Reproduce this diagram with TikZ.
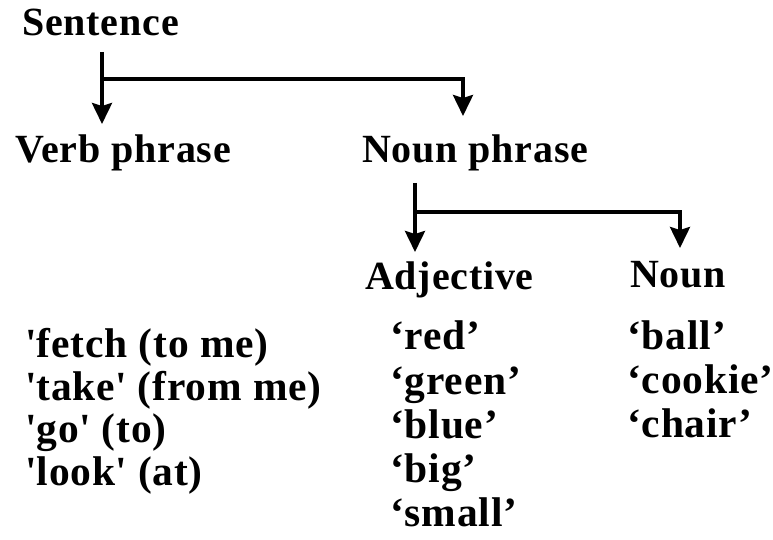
\documentclass[tikz,border=0pt]{standalone}
\usepackage{fontspec}
\setmainfont{Liberation Serif}[LetterSpace=2]
\usetikzlibrary{arrows.meta}
\newcommand{\sq}{\textquotesingle}
\begin{document}
\begin{tikzpicture}[x=1pt,y=1pt,
  lbl/.style={anchor=base west,inner sep=0pt,font=\fontsize{40}{40}\selectfont\bfseries},
  item/.style={lbl,font=\fontsize{41.5}{41.5}\selectfont\bfseries},
  conn/.style={line width=3.5pt,-{Stealth[length=21pt,width=20pt,inset=3pt]}}]
\useasboundingbox (0,0) rectangle (773,540);
% headings
\node[lbl] (sent) at (22,540-36) {Sentence};
\node[lbl] (vp) at (15,540-163) {Verb phrase};
\node[lbl] (np) at (362,540-163) {Noun phrase};
\node[lbl] (adj) at (365,540-290) {Adjective};
\node[lbl] (noun) at (630,540-288) {Noun};
% verb list
\node[item] (v1) at (25,540-358) {\sq fetch (to me)};
\node[item] (v2) at (25,540-401) {\sq take\sq{} (from me)};
\node[item] (v3) at (25,540-443) {\sq go\sq{} (to)};
\node[item] (v4) at (25,540-486) {\sq look\sq{} (at)};
% adjective list
\node[item] (a1) at (390,540-350) {‘red’};
\node[item] (a2) at (390,540-395) {‘green’};
\node[item] (a3) at (390,540-439) {‘blue’};
\node[item] (a4) at (390,540-483) {‘big’};
\node[item] (a5) at (390,540-527) {‘small’};
% noun list
\node[item] (n1) at (627,540-350) {‘ball’};
\node[item] (n2) at (627,540-394) {‘cookie’};
\node[item] (n3) at (627,540-438) {‘chair’};
% connectors
\coordinate (s0) at (102,540-52);
\coordinate (s1) at (102,540-79);
\coordinate (s2) at (463,540-79);
\coordinate (vpt) at (102,540-124);
\coordinate (npt) at (463,540-116);
\draw[conn] (s0) -- (vpt);
\draw[conn] (s1) -- (s2) -- (npt);
\coordinate (t0) at (415,540-183);
\coordinate (t1) at (415,540-212);
\coordinate (t2) at (680,540-212);
\coordinate (adt) at (415,540-252);
\coordinate (nnt) at (680,540-248);
\draw[conn] (t0) -- (adt);
\draw[conn] (t1) -- (t2) -- (nnt);
\end{tikzpicture}
\end{document}
